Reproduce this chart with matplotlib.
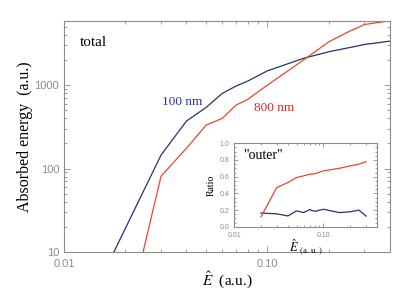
import numpy as np
import matplotlib
matplotlib.use("Agg")
import matplotlib.pyplot as plt
from matplotlib.ticker import LogLocator, FixedLocator, NullFormatter, MultipleLocator

# main panel: total absorbed energy vs E-hat
e_100 = [0.015, 0.02, 0.03, 0.04, 0.05, 0.06, 0.07, 0.08, 0.10, 0.15, 0.20, 0.25, 0.30, 0.40]
total_100 = [4.5, 19, 145, 371, 541, 795, 973, 1117, 1483, 2090, 2508, 2800, 3070, 3365]

e_800 = [0.02, 0.03, 0.04, 0.05, 0.06, 0.07, 0.08, 0.10, 0.15, 0.20, 0.25, 0.30, 0.40]
total_800 = [1.25, 81, 175, 332, 400, 575, 675, 1000, 1990, 3300, 4350, 5330, 5900]

# inset: "outer" ratio
e_ratio = [0.02, 0.03, 0.04, 0.05, 0.06, 0.07, 0.08, 0.10, 0.15, 0.20, 0.25, 0.30]
ratio_100 = [0.165, 0.155, 0.13, 0.19, 0.17, 0.205, 0.185, 0.21, 0.17, 0.18, 0.20, 0.128]
ratio_800 = [0.12, 0.47, 0.53, 0.59, 0.61, 0.63, 0.635, 0.67, 0.70, 0.73, 0.75, 0.78]

x_ticks = [0.01, 0.1]
x_ticklabels = ["0.01", "0.10"]
y_ticks = [10, 100, 1000]
y_ticklabels = ["10", "100", "1000"]

BLUE = "#22336f"
RED = "#e8482c"
GRAY = "#8c8c8c"
SERIF = "Liberation Serif"
SANS = "Liberation Sans"

plt.rcParams["mathtext.fontset"] = "stix"


def style_axes(ax, size, maj, mnr):
    for s in ax.spines.values():
        s.set_color(GRAY)
        s.set_linewidth(0.8)
    ax.tick_params(which="both", direction="in", top=True, right=True,
                   color=GRAY, labelcolor=GRAY, width=0.6)
    ax.tick_params(which="major", length=maj, labelsize=size)
    ax.tick_params(which="minor", length=mnr)
    for lab in ax.get_xticklabels() + ax.get_yticklabels():
        lab.set_family(SANS)


fig = plt.figure(figsize=(4.10, 2.93), dpi=100)
ax = fig.add_axes([0.156, 0.140, 0.795, 0.789])
ax.plot(e_100, total_100, color=BLUE, lw=0.9)
ax.plot(e_800, total_800, color=RED, lw=0.9)
ax.set_xscale("log")
ax.set_yscale("log")
ax.set_xlim(0.01, 0.4)
ax.set_ylim(10, 5900)
ax.xaxis.set_major_locator(FixedLocator(x_ticks))
ax.set_xticklabels(x_ticklabels)
ax.yaxis.set_major_locator(FixedLocator(y_ticks))
ax.set_yticklabels(y_ticklabels)
ax.xaxis.set_minor_locator(LogLocator(subs=np.arange(2, 10)))
ax.yaxis.set_minor_locator(LogLocator(subs=np.arange(2, 10)))
ax.xaxis.set_minor_formatter(NullFormatter())
ax.yaxis.set_minor_formatter(NullFormatter())
style_axes(ax, 8, 4.5, 2.2)
ax.tick_params(axis="x", pad=5)

ax.set_ylabel("Absorbed energy  (a.u.)", family=SERIF, fontsize=11.5, labelpad=1)
ax.set_xlabel(r"$\hat{E}$  (a.u.)", family=SERIF, fontsize=11, labelpad=0)

ax.text(0.049, 0.904, "total", transform=ax.transAxes, family=SERIF,
        fontsize=11, va="center", ha="left")
ax.text(0.30, 0.647, "100 nm", transform=ax.transAxes, family=SERIF,
        fontsize=9.5, color="#2a2f9c", va="center", ha="left")
ax.text(0.584, 0.621, "800 nm", transform=ax.transAxes, family=SERIF,
        fontsize=9.5, color="#d92a20", va="center", ha="left")

# inset
ins = fig.add_axes([0.571, 0.226, 0.349, 0.285])
ins.plot(e_ratio, ratio_100, color=BLUE, lw=0.9)
ins.plot(e_ratio, ratio_800, color=RED, lw=0.9)
ins.set_xscale("log")
ins.set_xlim(0.01, 0.4)
ins.set_ylim(0, 1.0)
ins.xaxis.set_major_locator(FixedLocator(x_ticks))
ins.set_xticklabels(x_ticklabels)
ins.xaxis.set_minor_locator(LogLocator(subs=np.arange(2, 10)))
ins.xaxis.set_minor_formatter(NullFormatter())
ins.yaxis.set_major_locator(MultipleLocator(0.2))
ins.yaxis.set_minor_locator(MultipleLocator(0.05))
ins.set_yticks([0.0, 0.2, 0.4, 0.6, 0.8, 1.0])
ins.set_yticklabels(["0.0", "0.2", "0.4", "0.6", "0.8", "1.0"])
style_axes(ins, 5, 3, 1.5)
ins.set_ylabel("Ratio", family=SERIF, fontsize=7, labelpad=3)
ins.set_xlabel(r"$\hat{E}$ $_{\mathrm{(a.u.)}}$", family=SERIF, fontsize=9, labelpad=-1)
ins.text(0.06, 0.85, '"outer"', transform=ins.transAxes, family=SERIF,
         fontsize=10, va="center", ha="left")

fig.savefig("out.png", dpi=100)
